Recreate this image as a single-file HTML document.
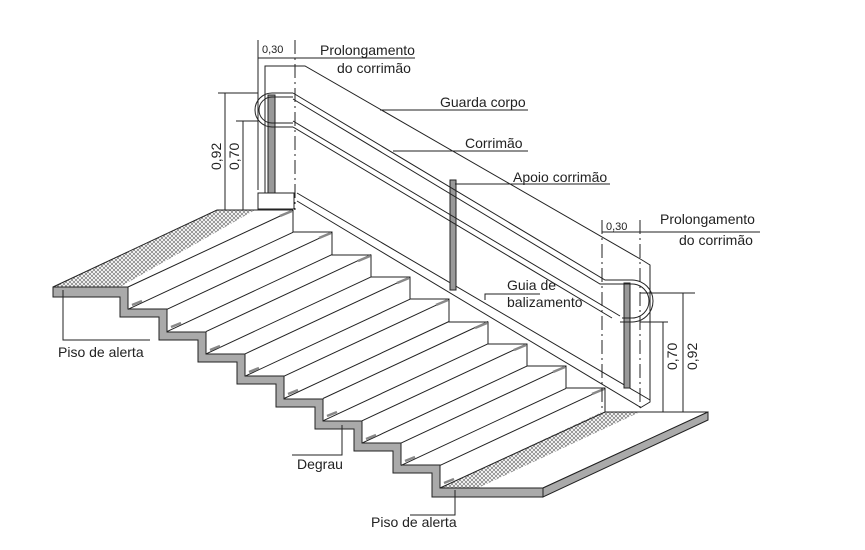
<!DOCTYPE html>
<html><head><meta charset="utf-8"><style>
html,body{margin:0;padding:0;background:#fff;}
svg{display:block;}
text{font-family:"Liberation Sans",sans-serif;font-size:14px;fill:#222;}
</style></head><body>
<svg width="865" height="550" viewBox="0 0 865 550" xmlns="http://www.w3.org/2000/svg">
<defs>
<pattern id="hx" width="4" height="4" patternUnits="userSpaceOnUse">
<path d="M0,0L4,4M4,0L0,4" stroke="#777" stroke-width="0.7"/>
</pattern>
</defs>
<g fill="none" stroke="#222" stroke-width="1">
<polygon points="53,287 120,287 255,210 217,210" fill="url(#hx)" stroke="none"/>
<polygon points="440,488 478,488 640,412 602,412" fill="url(#hx)" stroke="none"/>
<path d="M53,287 L217,210 L293,210"/>
<polygon fill="#aaa" points="53,287 128,287 128,309 167,309 167,332 206,332 206,354 245,354 245,376 284,376 284,399 323,399 323,421 362,421 362,443 401,443 401,465 440,465 440,488 543,488 543,497 432,497 432,473 393,473 393,451 354,451 354,429 315,429 315,407 276,407 276,384 237,384 237,362 198,362 198,340 159,340 159,317 120,317 120,297 53,297"/>
<polygon points="440,488 543,488 708,412 605,412"/>
<polygon fill="#aaa" points="543,488 708,412 708,420 543,497"/>
<path d="M128,287l165,-77 M128,309.3l165,-77
M167,309.3l165,-77 M167,331.6l165,-77
M206,331.6l165,-77 M206,353.9l165,-77
M245,353.9l165,-77 M245,376.2l165,-77
M284,376.2l165,-77 M284,398.5l165,-77
M323,398.5l165,-77 M323,420.8l165,-77
M362,420.8l165,-77 M362,443.1l165,-77
M401,443.1l165,-77 M401,465.4l165,-77
M440,465.4l165,-77"/>
<path d="M293,210 L293,232 L332,232 L332,255 L371,255 L371,277 L410,277 L410,299 L449,299 L449,322 L488,322 L488,344 L527,344 L527,366 L566,366 L566,388 L605,388 L605,412"/>
<g stroke="#888" stroke-width="2.5">
<path d="M280,216l12,-5 M319,238l12,-5 M358,261l12,-5 M397,283l12,-5 M436,305l12,-5 M475,328l12,-5 M514,350l12,-5 M553,372l12,-5 M592,394l12,-5"/>
<path d="M132,305l10,-4 M171,327l10,-4 M210,350l10,-4 M249,372l10,-4 M288,394l10,-4 M327,416l10,-4 M366,439l10,-4 M405,461l10,-4 M444,483l10,-4"/>
</g>
<path d="M265,193 L265,66 L305,66 L642,260 L650,265 L650,402 L640,408"/>
<path d="M297,193 L650,400 M297,201 L640,407"/>
<rect x="258" y="193" width="36" height="16" fill="#fff"/>
<rect x="268" y="95" width="7" height="98" fill="#999"/>
<rect x="450" y="180" width="6" height="110" fill="#999"/>
<rect x="624" y="283" width="6" height="105" fill="#999"/>
<path d="M293,93 L605,280 L632,280 A21,21 0 0 1 632,322 L620,322 M293,99 L600,284 L632,284 A17,17 0 0 1 632,318 L622,318"/>
<path d="M293,121 L620,316 M293,127 L612,318"/>
<path d="M293,93 L272,93 A17,17 0 0 0 272,127 L293,127 M293,97 L272,97 A13,13 0 0 0 272,123 L293,123"/>
<path d="M258,40 L258,190 M218,93 L258,93 M236,121 L258,121"/>
<path d="M295,40 L295,210 M602,220 L602,412 M640,220 L640,412" stroke-dasharray="14,4,2,4"/>
<path d="M225,93 L225,210 M243,121 L243,210 M258,58 L295,58 M295,58 L415,58"/>
<path d="M640,293 L695,293 M640,322 L668,322 M663,322 L663,412 M683,293 L683,412 M602,232 L640,232 L760,232"/>
<path d="M380,110 L528,110 M393,151 L528,151 M455,184 L610,184"/>
<path d="M485,300 L485,294 L540,294"/>
<path d="M63,290 L63,340 L150,340"/>
<path d="M342,425 L342,455 L292,455"/>
<path d="M455,490 L455,515 L410,515"/>
</g>
<text x="262" y="53" style="font-size:11px">0,30</text>
<text x="320" y="55">Prolongamento</text>
<text x="337" y="73">do corrimão</text>
<text x="440" y="107">Guarda corpo</text>
<text x="465" y="148">Corrimão</text>
<text x="513" y="182">Apoio corrimão</text>
<text x="606" y="230" style="font-size:11px">0,30</text>
<text x="660" y="224">Prolongamento</text>
<text x="679" y="245">do corrimão</text>
<text x="507" y="290">Guia de</text>
<text x="507" y="307">balizamento</text>
<text x="58" y="357">Piso de alerta</text>
<text x="297" y="469">Degrau</text>
<text x="371" y="527">Piso de alerta</text>
<text transform="translate(221,170) rotate(-90)">0,92</text>
<text transform="translate(239,170) rotate(-90)">0,70</text>
<text transform="translate(677,370) rotate(-90)">0,70</text>
<text transform="translate(697,370) rotate(-90)">0,92</text>
</svg>
</body></html>
